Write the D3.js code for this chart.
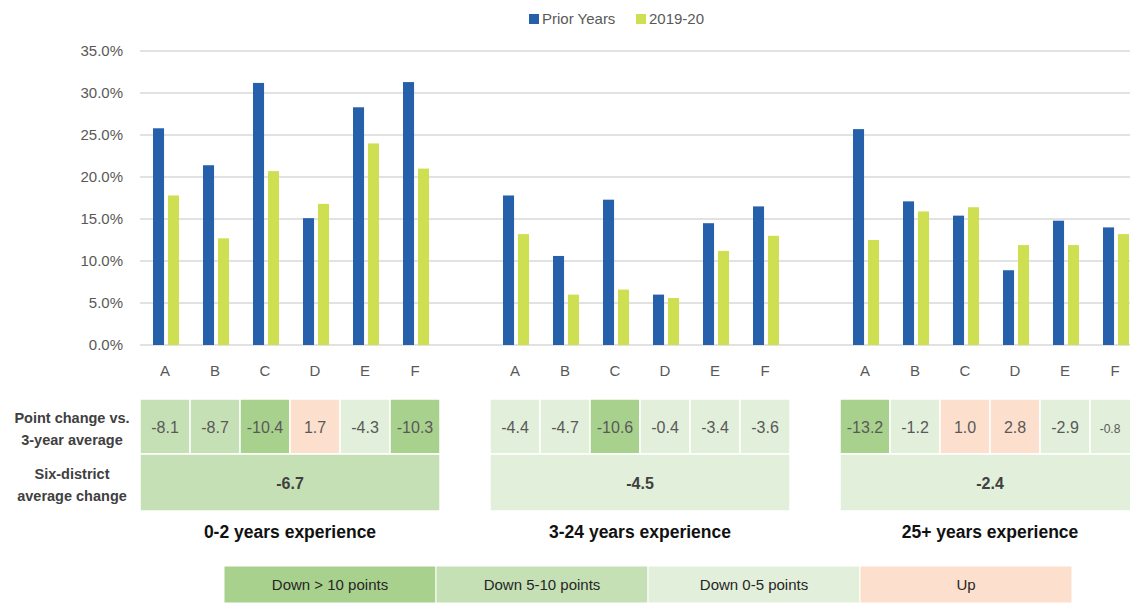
<!DOCTYPE html>
<html>
<head>
<meta charset="utf-8">
<title>Experience chart</title>
<script src="https://cdn.jsdelivr.net/npm/d3@7"></script>
<style>
  body { margin: 0; background: #fff; }
  text { font-family: "Liberation Sans", Arial, sans-serif; }
</style>
</head>
<body>
<script>
// data
var groups = ["0-2 years experience", "3-24 years experience", "25+ years experience"];
var districts = ["A", "B", "C", "D", "E", "F"];
var seriesNames = ["Prior Years", "2019-20"];
var priorYears = [
  [25.8, 21.4, 31.2, 15.1, 28.3, 31.3],
  [17.8, 10.6, 17.3, 6.0, 14.5, 16.5],
  [25.7, 17.1, 15.4, 8.9, 14.8, 14.0]
];
var current = [
  [17.8, 12.7, 20.7, 16.8, 24.0, 21.0],
  [13.2, 6.0, 6.6, 5.6, 11.2, 13.0],
  [12.5, 15.9, 16.4, 11.9, 11.9, 13.2]
];
var pointChange = [
  [-8.1, -8.7, -10.4, 1.7, -4.3, -10.3],
  [-4.4, -4.7, -10.6, -0.4, -3.4, -3.6],
  [-13.2, -1.2, 1.0, 2.8, -2.9, -0.8]
];
var avgChange = [-6.7, -4.5, -2.4];
var yTicks = [0, 5, 10, 15, 20, 25, 30, 35];
var legendClasses = ["Down > 10 points", "Down 5-10 points", "Down 0-5 points", "Up"];

var w = 1130, h = 603;
var colors = ["#2660ab", "#cfdf52"];
var classColors = ["#a9d18e", "#c5e0b4", "#e2efda", "#fddfcd"];

function classOf(v) {
  if (v <= -10) return 0;
  if (v <= -5) return 1;
  if (v <= 0) return 2;
  return 3;
}

var svg = d3.select("body").append("svg")
  .attr("width", w).attr("height", h);

svg.append("rect").attr("width", w).attr("height", h).attr("fill", "#fff");

// slots: 6 districts per group, one empty slot between groups
var slots = [];
groups.forEach(function(g, gi) {
  if (gi > 0) slots.push("gap" + gi);
  districts.forEach(function(d) { slots.push(gi + "-" + d); });
});

var x = d3.scaleBand().domain(slots).range([140, 1140]);
var xIn = d3.scaleBand().domain(seriesNames).range([13, 39]).paddingInner(0.26);
var y = d3.scaleLinear().domain([0, 35]).range([345, 51]);

// grid lines
svg.append("g").selectAll("line")
  .data(yTicks)
  .enter().append("line")
  .attr("x1", 140).attr("x2", w)
  .attr("y1", function(d) { return y(d); })
  .attr("y2", function(d) { return y(d); })
  .attr("stroke", "#d9d9d9").attr("stroke-width", 1.3);

var yAxis = d3.axisLeft(y).tickValues(yTicks)
  .tickFormat(function(d) { return d.toFixed(1) + "%"; })
  .tickSize(0).tickPadding(17);
var gy = svg.append("g").attr("transform", "translate(140,0)").call(yAxis);
gy.select(".domain").remove();
gy.selectAll("text").attr("fill", "#595959").attr("font-size", "15px")
  .attr("font-family", "Liberation Sans, Arial, sans-serif");

// bars
groups.forEach(function(g, gi) {
  var vals = [priorYears[gi], current[gi]];
  vals.forEach(function(arr, si) {
    svg.append("g").selectAll("rect")
      .data(arr)
      .enter().append("rect")
      .attr("x", function(d, i) { return x(gi + "-" + districts[i]) + xIn(seriesNames[si]); })
      .attr("width", xIn.bandwidth())
      .attr("y", function(d) { return y(d); })
      .attr("height", function(d) { return y(0) - y(d); })
      .attr("fill", colors[si]);
  });
  // category labels
  svg.append("g").selectAll("text")
    .data(districts)
    .enter().append("text")
    .attr("x", function(d) { return x(gi + "-" + d) + x.bandwidth() / 2; })
    .attr("y", 376)
    .attr("text-anchor", "middle")
    .attr("font-size", "15px")
    .attr("fill", "#595959")
    .text(function(d) { return d; });
});

// top legend
var leg = svg.append("g");
var legX = [529, 636];
seriesNames.forEach(function(s, i) {
  leg.append("rect").attr("x", legX[i]).attr("y", 14).attr("width", 10).attr("height", 10)
    .attr("fill", colors[i]);
  leg.append("text").attr("x", legX[i] + 13).attr("y", 24)
    .attr("font-size", "15px").attr("fill", "#595959").text(s);
});

// table
var row1Top = 399, row1H = 55, row2H = 57;
groups.forEach(function(g, gi) {
  var cells = svg.append("g");
  pointChange[gi].forEach(function(v, i) {
    var cx = x(gi + "-" + districts[i]);
    var cw = Math.min(x.bandwidth(), w - cx);
    cells.append("rect")
      .attr("x", cx).attr("y", row1Top)
      .attr("width", x.bandwidth()).attr("height", row1H)
      .attr("fill", classColors[classOf(v)])
      .attr("stroke", "#fff").attr("stroke-width", 1.5);
    cells.append("text")
      .attr("x", cx + cw / 2)
      .attr("y", row1Top + row1H / 2 + 6)
      .attr("text-anchor", "middle")
      .attr("font-size", cw < 45 ? "12px" : "16px")
      .attr("fill", "#595959")
      .text(v.toFixed(1));
  });
  var gx0 = x(gi + "-" + districts[0]);
  var gx1 = x(gi + "-" + districts[5]) + x.bandwidth();
  cells.append("rect")
    .attr("x", gx0).attr("y", row1Top + row1H)
    .attr("width", gx1 - gx0).attr("height", row2H)
    .attr("fill", classColors[classOf(avgChange[gi])])
    .attr("stroke", "#fff").attr("stroke-width", 1.5);
  cells.append("text")
    .attr("x", (gx0 + gx1) / 2)
    .attr("y", row1Top + row1H + row2H / 2 + 6)
    .attr("text-anchor", "middle")
    .attr("font-size", "16px").attr("font-weight", "bold")
    .attr("fill", "#404040")
    .text(avgChange[gi].toFixed(1));
  cells.append("text")
    .attr("x", (gx0 + gx1) / 2)
    .attr("y", 538)
    .attr("text-anchor", "middle")
    .attr("font-size", "17.5px").attr("font-weight", "bold")
    .attr("fill", "#111")
    .text(g);
});

// row labels
var rowLabels = [["Point change vs.", "3-year average"], ["Six-district", "average change"]];
var rowLabelY = [[423, 445], [479, 501]];
rowLabels.forEach(function(lines, r) {
  lines.forEach(function(t, k) {
    svg.append("text").attr("x", 72).attr("y", rowLabelY[r][k])
      .attr("text-anchor", "middle")
      .attr("font-size", "14.5px").attr("font-weight", "bold")
      .attr("fill", "#404040").text(t);
  });
});

// bottom legend
var lx = d3.scaleBand().domain(legendClasses).range([224, 1072]);
var bl = svg.append("g");
bl.selectAll("rect").data(legendClasses).enter().append("rect")
  .attr("x", function(d) { return lx(d); })
  .attr("y", 566).attr("width", lx.bandwidth()).attr("height", 37)
  .attr("fill", function(d, i) { return classColors[i]; })
  .attr("stroke", "#fff").attr("stroke-width", 1);
bl.selectAll("text").data(legendClasses).enter().append("text")
  .attr("x", function(d) { return lx(d) + lx.bandwidth() / 2; })
  .attr("y", 590)
  .attr("text-anchor", "middle")
  .attr("font-size", "15px").attr("fill", "#262626")
  .text(function(d) { return d; });
</script>
</body>
</html>
